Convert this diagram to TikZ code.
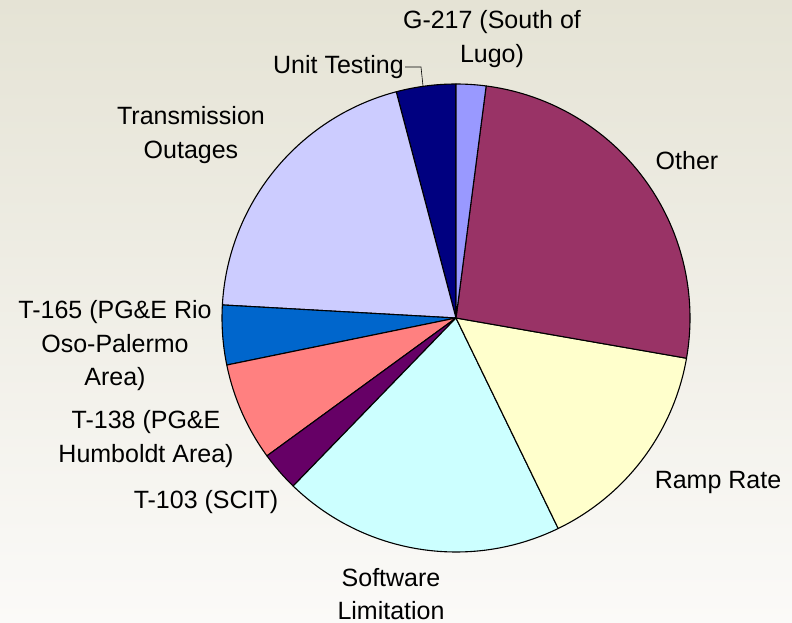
\documentclass[tikz,border=0pt]{standalone}
\usepackage{fontspec}
\setmainfont{Liberation Sans}
\definecolor{bgtop}{HTML}{E5E3D5}
\definecolor{bgbot}{HTML}{FBFAF8}
\definecolor{sl_g}{HTML}{9999FF}
\definecolor{sl_other}{HTML}{993366}
\definecolor{sl_ramp}{HTML}{FFFFCC}
\definecolor{sl_soft}{HTML}{CCFFFF}
\definecolor{sl_t103}{HTML}{660066}
\definecolor{sl_t138}{HTML}{FF8080}
\definecolor{sl_t165}{HTML}{0066CC}
\definecolor{sl_trans}{HTML}{CCCCFF}
\definecolor{sl_unit}{HTML}{000080}
\usetikzlibrary{positioning,calc}

\begin{document}
\begin{tikzpicture}[x=1pt,y=1pt,
	slice/.style={draw=black,line width=1.1pt,line join=round},
	pie_label/.style={align=center,inner sep=0pt,font=\fontsize{25}{33.5}\selectfont}]

	\useasboundingbox (0,0) rectangle (792,622);
	\shade[top color=bgtop,bottom color=bgbot] (0,0) rectangle (792,622);

	\coordinate (c) at (456,304);
	\def\r{234}

	\filldraw[slice, fill=sl_unit]  (c) -- ++(90:\r)    arc (90:104.8:\r)    -- cycle;
	\filldraw[slice, fill=sl_trans] (c) -- ++(104.8:\r) arc (104.8:176.8:\r) -- cycle;
	\filldraw[slice, fill=sl_t165]  (c) -- ++(176.8:\r) arc (176.8:191.6:\r) -- cycle;
	\filldraw[slice, fill=sl_t138]  (c) -- ++(191.6:\r) arc (191.6:216.1:\r) -- cycle;
	\filldraw[slice, fill=sl_t103]  (c) -- ++(216.1:\r) arc (216.1:225.9:\r) -- cycle;
	\filldraw[slice, fill=sl_soft]  (c) -- ++(225.9:\r) arc (225.9:295.9:\r) -- cycle;
	\filldraw[slice, fill=sl_ramp]  (c) -- ++(295.9:\r) arc (295.9:350.1:\r) -- cycle;
	\filldraw[slice, fill=sl_other] (c) -- ++(350.1:\r) arc (350.1:442.6:\r) -- cycle;
	\filldraw[slice, fill=sl_g]     (c) -- ++(82.6:\r)  arc (82.6:90:\r)     -- cycle;

	\node[pie_label] (g217)  at (492,583) {G-217 (South of\\Lugo)};
	\node[pie_label, anchor=east] (unit) at (404,555) {Unit Testing};
	\node[pie_label] (trans) at (191,487) {Transmission\\Outages};
	\node[pie_label] (other) at (687,461) {Other};
	\node[pie_label] (t165)  at (115,276) {T-165 (PG\&E Rio\\Oso-Palermo\\Area)};
	\node[pie_label] (t138)  at (146,183) {T-138 (PG\&E\\Humboldt Area)};
	\node[pie_label] (t103)  at (206,120) {T-103 (SCIT)};
	\node[pie_label] (ramp)  at (718,140) {Ramp Rate};
	\node[pie_label] (soft)  at (391,28)  {Software\\Limitation};

	\coordinate (unit_pt) at ($(c)+(98.1:\r)$);
	\draw[line width=0.6pt] (unit.east) ++(1,0) -- ++(16,0) -- (unit_pt);

\end{tikzpicture}
\end{document}
